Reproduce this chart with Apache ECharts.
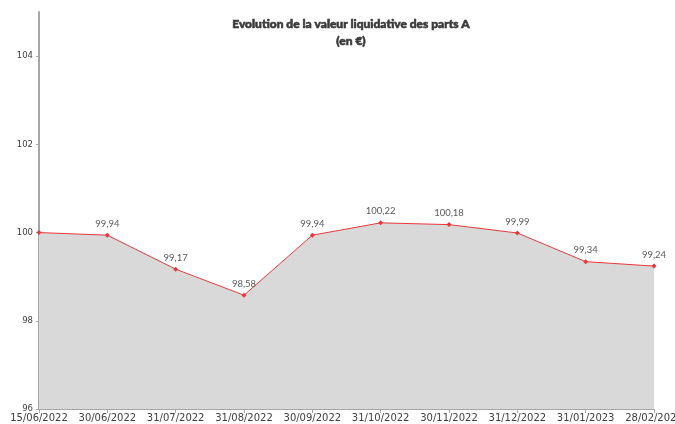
<!DOCTYPE html>
<html>
<head>
<meta charset="utf-8">
<script src="https://cdn.jsdelivr.net/npm/echarts@6/dist/echarts.min.js"></script>
<style>html,body{margin:0;padding:0;background:#fff}#c{width:675px;height:424px}</style>
</head>
<body>
<div id="c"></div>
<script>
const categories = ["15/06/2022","30/06/2022","31/07/2022","31/08/2022","30/09/2022","31/10/2022","30/11/2022","31/12/2022","31/01/2023","28/02/2023"];
const values = [100, 99.94, 99.17, 98.58, 99.94, 100.22, 100.18, 99.99, 99.34, 99.24];
const yTicks = [96, 98, 100, 102, 104];
const titleText = "Evolution de la valeur liquidative des parts A\n(en €)";

const chart = echarts.init(document.getElementById('c'));
chart.setOption({
  animation: false,
  title: {
    text: titleText,
    left: 346, textAlign: 'center', top: 11,
    textStyle: { fontFamily: 'Lato', fontWeight: 900, fontSize: 12, color: '#3a3a3a', lineHeight: 17,
                 textBorderColor: '#3a3a3a', textBorderWidth: 0.6 }
  },
  grid: { left: 39, right: 21, top: 12, bottom: 15, containLabel: false, outerBoundsMode: 'none' },
  xAxis: {
    type: 'category', data: categories, boundaryGap: false,
    axisLine: { lineStyle: { color: '#a6a6a6', width: 1 } },
    axisTick: { show: true, alignWithLabel: true, lineStyle: { color: '#a6a6a6' }, length: 4 },
    axisLabel: { color: '#404040', fontSize: 10, fontFamily: 'DejaVu Sans', margin: 4, interval: 0, showMaxLabel: true, hideOverlap: false }
  },
  yAxis: {
    type: 'value', min: 96, max: 105, interval: 1,
    axisLine: { show: true, lineStyle: { color: '#a6a6a6', width: 2 } },
    axisTick: { show: true, customValues: yTicks, lineStyle: { color: '#a6a6a6' }, length: 3 },
    axisLabel: { customValues: yTicks, color: '#404040', fontSize: 8.5, fontFamily: 'DejaVu Sans', margin: 6 },
    splitLine: { show: false }
  },
  series: [{
    type: 'line', data: values,
    symbol: 'diamond', symbolSize: 5, showAllSymbol: true,
    lineStyle: { color: '#e8383a', width: 1 },
    itemStyle: { color: '#e8383a' },
    areaStyle: { color: '#d9d9d9', opacity: 1, origin: 'start' },
    label: {
      show: true, position: 'top', distance: 4, fontSize: 9.5, fontFamily: 'Lato', color: '#595959',
      formatter: p => p.dataIndex === 0 ? '' : String(p.value).replace('.', ',')
    }
  }]
});
</script>
</body>
</html>
